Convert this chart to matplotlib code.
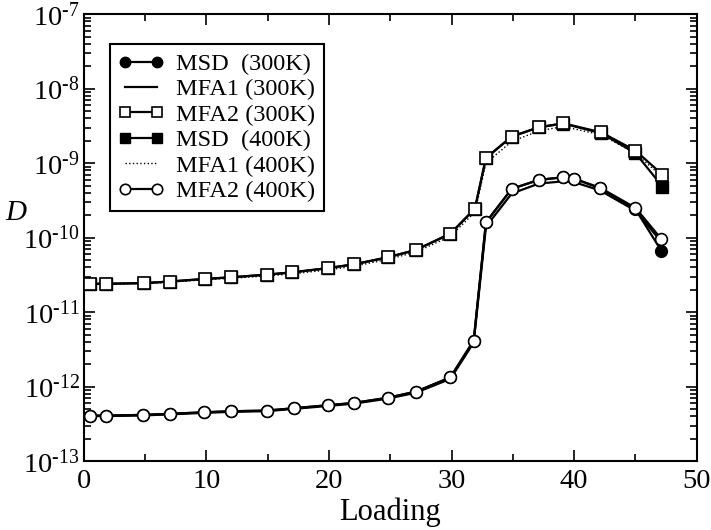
import matplotlib.pyplot as plt
from matplotlib.ticker import LogLocator, MultipleLocator, NullFormatter, FuncFormatter
import numpy as np

plt.rcParams['font.family'] = ['Liberation Serif', 'DejaVu Serif']
plt.rcParams['mathtext.fontset'] = 'custom'
plt.rcParams['mathtext.rm'] = 'Liberation Serif'
plt.rcParams['mathtext.it'] = 'Liberation Serif:italic'

# loadings sampled on the upper (square) and lower (circle) branches
load_sq = [0.5, 1.8, 4.9, 7.0, 9.9, 12.0, 14.9, 17.0, 19.9, 22.0, 24.8, 27.1,
           29.9, 31.9, 32.8, 34.9, 37.1, 39.1, 42.2, 45.0, 47.2]
load_ci = [0.5, 1.8, 4.8, 7.0, 9.8, 12.0, 14.9, 17.1, 19.9, 22.0, 24.8, 27.1,
           29.9, 31.8, 32.8, 34.9, 37.1, 39.1, 40.0, 42.1, 45.0, 47.1]

# upper branch
mfa2_300 = [2.40e-11, 2.40e-11, 2.45e-11, 2.57e-11, 2.79e-11, 2.93e-11, 3.18e-11,
            3.42e-11, 3.89e-11, 4.37e-11, 5.44e-11, 6.84e-11, 1.13e-10, 2.45e-10,
            1.17e-9, 2.27e-9, 3.02e-9, 3.42e-9, 2.59e-9, 1.47e-9, 7.0e-10]
msd_400 = [2.40e-11, 2.40e-11, 2.45e-11, 2.57e-11, 2.79e-11, 2.93e-11, 3.18e-11,
           3.42e-11, 3.89e-11, 4.37e-11, 5.44e-11, 6.84e-11, 1.13e-10, 2.45e-10,
           1.17e-9, 2.27e-9, 3.02e-9, 3.40e-9, 2.52e-9, 1.36e-9, 4.84e-10]
mfa1_400 = [2.38e-11, 2.38e-11, 2.42e-11, 2.52e-11, 2.72e-11, 2.84e-11, 3.06e-11,
            3.26e-11, 3.68e-11, 4.12e-11, 5.10e-11, 6.40e-11, 1.04e-10, 2.20e-10,
            1.00e-9, 1.95e-9, 2.70e-9, 3.10e-9, 2.40e-9, 1.35e-9, 6.5e-10]

# lower branch
mfa2_400 = [4.08e-13, 4.08e-13, 4.17e-13, 4.31e-13, 4.52e-13, 4.67e-13, 4.76e-13,
            5.12e-13, 5.62e-13, 6.03e-13, 7.08e-13, 8.57e-13, 1.33e-12, 4.14e-12,
            1.60e-10, 4.51e-10, 5.94e-10, 6.46e-10, 6.17e-10, 4.68e-10, 2.51e-10, 9.6e-11]
msd_300 = [4.08e-13, 4.08e-13, 4.17e-13, 4.31e-13, 4.52e-13, 4.67e-13, 4.76e-13,
           5.12e-13, 5.62e-13, 6.03e-13, 7.08e-13, 8.57e-13, 1.33e-12, 4.14e-12,
           1.60e-10, 4.51e-10, 5.94e-10, 6.46e-10, 6.17e-10, 4.60e-10, 2.40e-10, 6.7e-11]
mfa1_300 = [4.02e-13, 4.02e-13, 4.10e-13, 4.24e-13, 4.44e-13, 4.58e-13, 4.68e-13,
            5.02e-13, 5.50e-13, 5.90e-13, 6.90e-13, 8.30e-13, 1.27e-12, 3.90e-12,
            1.40e-10, 3.90e-10, 5.30e-10, 5.70e-10, 5.55e-10, 4.30e-10, 2.30e-10, 8.8e-11]

fig = plt.figure(figsize=(7.11, 5.30), dpi=100)
ax = fig.add_axes([0.118, 0.130, 0.862, 0.8434])

lw = 1.6
ms = 8.5
ax.plot(load_ci, msd_300, color='k', lw=lw, marker='o', ms=ms, mfc='k', mec='k',
        label='MSD  (300K)', zorder=3)
ax.plot(load_ci, mfa1_300, color='k', lw=lw, label='MFA1 (300K)', zorder=2)
ax.plot(load_sq, mfa2_300, color='k', lw=lw, marker='s', ms=ms, mfc='white', mec='k',
        mew=1.2, label='MFA2 (300K)', zorder=4)
ax.plot(load_sq, msd_400, color='k', lw=lw, marker='s', ms=ms, mfc='k', mec='k',
        label='MSD  (400K)', zorder=3)
ax.plot(load_sq, mfa1_400, color='k', lw=1.0, ls=':', label='MFA1 (400K)', zorder=2)
ax.plot(load_ci, mfa2_400, color='k', lw=lw, marker='o', ms=ms, mfc='white', mec='k',
        mew=1.2, label='MFA2 (400K)', zorder=4)

ax.set_yscale('log')
ax.set_xlim(0, 50)
ax.set_ylim(1e-13, 1e-7)
ax.xaxis.set_major_locator(MultipleLocator(10))
ax.xaxis.set_minor_locator(MultipleLocator(5))
ax.yaxis.set_major_locator(LogLocator(base=10, numticks=10))
ax.yaxis.set_minor_locator(LogLocator(base=10, subs=range(2, 10), numticks=100))
ax.yaxis.set_minor_formatter(NullFormatter())


def pow10(v, pos):
    e = int(round(np.log10(v)))
    return r'$10^{\text{-}%d}$' % abs(e) if e < 0 else r'$10^{%d}$' % e


ax.yaxis.set_major_formatter(FuncFormatter(pow10))

ax.tick_params(which='both', direction='in', top=True, right=True, width=1.2)
ax.tick_params(which='major', length=8, labelsize=20.5, pad=6)
ax.tick_params(axis='y', which='major', pad=3)
ax.tick_params(which='minor', length=5)
for s in ax.spines.values():
    s.set_linewidth(1.5)

ax.set_xlabel('Loading', fontsize=22, labelpad=2)
ax.set_ylabel('$D$', fontsize=21, rotation=0, va='center')
ax.yaxis.set_label_coords(-0.11, 0.555)

leg = ax.legend(loc='upper left', bbox_to_anchor=(0.042, 0.932), fontsize=17.5,
                frameon=True, fancybox=False, edgecolor='k', framealpha=1,
                numpoints=2, handlelength=1.9, handletextpad=0.5, labelspacing=0.14,
                borderpad=0.35, borderaxespad=0)
leg.get_frame().set_linewidth(1.5)
for h in leg.legend_handles:
    h.set_markersize(7.5)

fig.savefig('out.png', dpi=100)
